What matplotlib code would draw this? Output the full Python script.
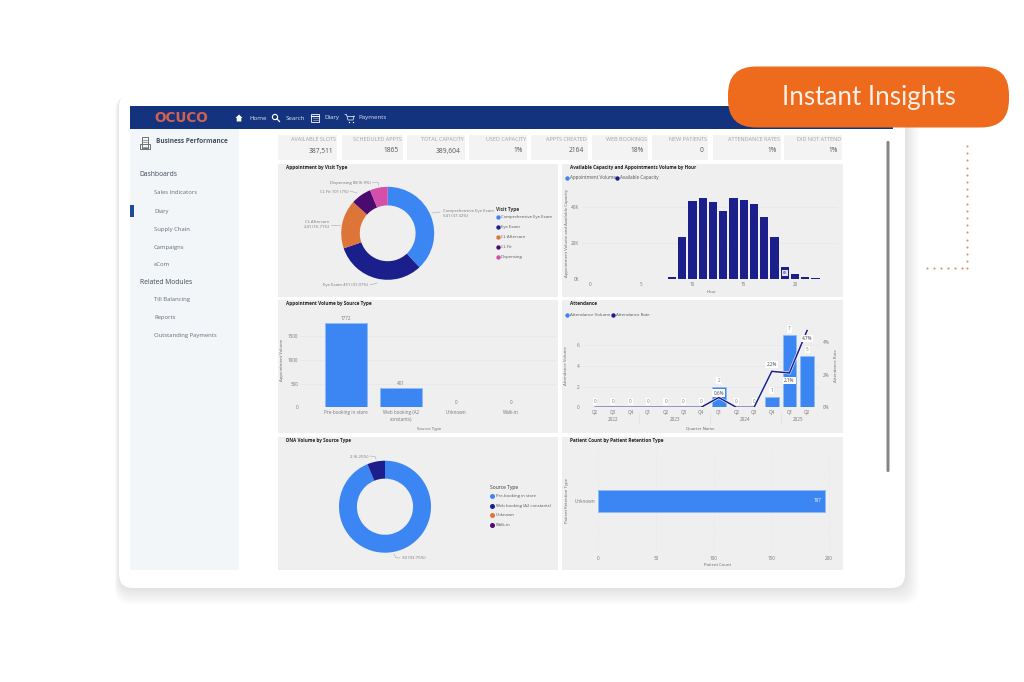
import numpy as np
import matplotlib
matplotlib.use('Agg')
import matplotlib.pyplot as plt
import matplotlib.patheffects as pe
from matplotlib.patches import FancyBboxPatch, Rectangle, Circle, Polygon

plt.rcParams['font.family'] = ['Open Sans', 'DejaVu Sans']

BLUE = '#3b86f2'
EDGE = '#8dbcf8'
NAVY = '#1a1f8c'
ORANGE = '#dd7438'
PURPLE = '#4b0a6e'
PINK = '#d34fa9'
PANEL = '#efefef'
TICK = '#777777'

kpi_names = ['AVAILABLE SLOTS', 'SCHEDULED APPTS', 'TOTAL CAPACITY', 'USED CAPACITY', 'APPTS CREATED',
             'WEB BOOKINGS', 'NEW PATIENTS', 'ATTENDANCE RATES', 'DID NOT ATTEND']
kpi_values = ['387,511', '1865', '389,604', '1%', '2164', '18%', '0', '1%', '1%']

visit_types = ['Comprehensive Eye Exam', 'Eye Exam', 'CL Aftercare', 'CL Fit', 'Dispensing']
visit_counts = [541, 451, 241, 101, 88]

hours = [8, 9, 10, 11, 12, 13, 14, 15, 16, 17, 18, 19, 20, 21, 22]
capacity = [900, 23000, 43000, 44600, 42600, 37500, 44600, 43700, 41500, 34500, 23000, 6500, 2600, 1300, 300]

source_types = ['Pre-booking in store', 'Web booking (A2\nconstants)', 'Unknown', 'Walk-in']
source_volume = [1772, 401, 0, 0]

quarters = ['Q2', 'Q3', 'Q4', 'Q1', 'Q2', 'Q3', 'Q4', 'Q1', 'Q2', 'Q3', 'Q4', 'Q1', 'Q2']
attendance = [0, 0, 0, 0, 0, 0, 0, 2, 0, 0, 1, 7, 5]
attendance_rate = [0, 0, 0, 0, 0, 0, 0, 0.6, 0, 0, 2.2, 2.1, 4.7]
rate_labels = {7: '0.6%', 10: '2.2%', 11: '2.1%', 12: '4.7%'}
years = ['2022', '2023', '2024', '2025']
year_centers = [1, 4.5, 8.5, 11.5]

dna_sources = ['Pre-booking in store', 'Web booking (A2 constants)', 'Unknown', 'Walk-in']
dna_counts = [30, 2]

retention_types = ['Unknown']
patient_counts = [197]

sidebar_items = ['Sales Indicators', 'Diary', 'Supply Chain', 'Campaigns', 'eCom']
sidebar_items2 = ['Till Balancing', 'Reports', 'Outstanding Payments']

fig = plt.figure(figsize=(10.24, 6.82), dpi=100, facecolor='white')
bg = fig.add_axes([0, 0, 1, 1])
bg.set_xlim(0, 1024)
bg.set_ylim(682, 0)
bg.axis('off')


def px_axes(x0, y0, x1, y1):
    # axes from pixel box, y counted from top like the screenshot
    ax = fig.add_axes([x0 / 1024, 1 - y1 / 682, (x1 - x0) / 1024, (y1 - y0) / 682])
    ax.patch.set_alpha(0)
    for s in ax.spines.values():
        s.set_visible(False)
    ax.tick_params(length=0, labelsize=3.3, labelcolor=TICK, pad=2)
    return ax


def round_box(x0, y0, x1, y1, r, **kw):
    bg.add_patch(FancyBboxPatch((x0 + r, y0 + r), x1 - x0 - 2 * r, y1 - y0 - 2 * r,
                                boxstyle=f'round,pad={r},rounding_size={r}', linewidth=0, **kw))


def legend(title, names, colors, x, y, ys, size=3.05):
    if title:
        bg.text(x - 2, y, title, fontsize=3.4, fontweight='bold', color='#333333', va='center')
    for name, c, yy in zip(names, colors, ys):
        bg.scatter([x], [yy], s=10, color=c, linewidths=0)
        bg.text(x + 3, yy, name, fontsize=size, color='#555555', va='center')


def axis_labels(ax, xlabel, xpos, ylabel, ypos):
    ax.set_xlabel(xlabel, fontsize=3.1, color='#666666')
    ax.xaxis.set_label_coords(xpos[0], xpos[1], transform=bg.transData)
    ax.set_ylabel(ylabel, fontsize=3.1, color='#666666', va='center')
    ax.yaxis.set_label_coords(ypos[0], ypos[1], transform=bg.transData)
    ax.xaxis.label.set_va('center')


# card and shadow
for i in range(14, 0, -1):
    round_box(119 - i * 0.3, 93 + i * 0.2, 905 + i * 1.0, 588 + i * 1.2, 16, color='#8a8a8a', alpha=0.011)
round_box(119, 93, 905, 588, 14, color='white')

# dots next to the card
dot_ys = np.arange(146, 269, 7.2)
dot_xs = np.arange(927, 967, 7)
bg.scatter(np.full(len(dot_ys), 967), dot_ys, s=2.2, color='#c9946d', linewidths=0)
bg.scatter(dot_xs, np.full(len(dot_xs), 268), s=2.2, color='#c9946d', linewidths=0)

# header and sidebar
bg.add_patch(Rectangle((130, 106), 763, 23, color='#14337e', linewidth=0))
bg.add_patch(Rectangle((130, 129), 109, 441, color='#f3f6f8', linewidth=0))
bg.add_patch(Rectangle((130, 205), 4, 12, color='#1e4a9c', linewidth=0))
bg.text(181.5, 117.8, 'OCUCO', fontsize=9.8, fontweight='bold', color='#d4604f', ha='center', va='center',
        family=['DejaVu Sans'])

for name, x in zip(['Home', 'Search', 'Diary', 'Payments'], [249, 285.5, 324, 358]):
    bg.text(x, 118, name, fontsize=4.4, color='#dfe5f2', va='center')
# home icon
bg.add_patch(Polygon([(235.5, 118), (239, 114.5), (242.5, 118), (241.3, 118), (241.3, 121.5),
                      (236.7, 121.5), (236.7, 118)], color='white', linewidth=0))
# search icon
bg.add_patch(Circle((275, 117), 2.6, fill=False, edgecolor='white', linewidth=0.8))
bg.plot([277, 279.5], [119, 121.5], color='white', lw=0.9)
# diary icon
bg.add_patch(Rectangle((311, 114), 8, 8, fill=False, edgecolor='white', linewidth=0.6))
bg.plot([311, 319], [116, 116], color='white', lw=0.8)
for yy in [118, 120]:
    bg.plot([312.5, 317.5], [yy, yy], color='white', lw=0.5, ls=(0, (1, 0.6)))
# cart icon
bg.plot([345, 346.5, 348, 353, 354], [114.5, 114.5, 120, 120, 116], color='white', lw=0.5)
bg.plot([346.8, 354], [116, 116], color='white', lw=0.5)
bg.scatter([348.5, 352.5], [121.5, 121.5], s=1, color='white', linewidths=0)

# building icon
bg.add_patch(Rectangle((141.5, 137), 6.5, 11, fill=False, edgecolor='#6f6f6f', linewidth=0.7))
bg.add_patch(Rectangle((139.5, 144), 10.5, 5, fill=False, edgecolor='#6f6f6f', linewidth=0.7))
for yy in [139.5, 141.5, 146.5]:
    bg.plot([143, 147], [yy, yy], color='#6f6f6f', lw=0.5)

bg.text(155.5, 141.7, 'Business Performance', fontsize=4.7, fontweight='bold', color='#44505c', va='center')
bg.text(139.7, 174, 'Dashboards', fontsize=4.9, color='#3f4a55', fontweight='medium', va='center')
bg.text(139.7, 282, 'Related Modules', fontsize=4.9, color='#3f4a55', fontweight='medium', va='center')
for name, yy in zip(sidebar_items, [193, 211, 229, 247, 264.7]):
    bg.text(154, yy, name, fontsize=4.2, color='#626c76', va='center')
for name, yy in zip(sidebar_items2, [300, 318, 336]):
    bg.text(154, yy, name, fontsize=4.2, color='#626c76', va='center')

# scrollbar
round_box(886.5, 141, 889.5, 472, 1.4, color='#858585')

# kpi cards
kpi_left = [278, 342, 407, 469, 531, 592, 652, 713, 784]
kpi_right = [337, 403, 465, 527, 588, 648, 708, 781, 842]
for name, val, l, r in zip(kpi_names, kpi_values, kpi_left, kpi_right):
    bg.add_patch(Rectangle((l, 135), r - l, 25, color='#f3f3f3', linewidth=0))
    bg.text(r - 1, 139.5, name, fontsize=4.0, color='#a4a4a4', ha='right', va='center')
    bg.text(r - 4, 151, val, fontsize=4.8, color='#555555', ha='right', va='center')

# chart panels
panel_boxes = [(278, 164, 558, 297), (562, 164, 843, 297), (278, 300, 558, 433),
               (562, 300, 843, 433), (278, 437, 558, 570), (562, 437, 843, 570)]
panel_titles = ['Appointment by Visit Type', 'Available Capacity and Appointments Volume by Hour',
                'Appointment Volume by Source Type', 'Attendance', 'DNA Volume by Source Type',
                'Patient Count by Patient Retention Type']
for (x0, y0, x1, y1), title in zip(panel_boxes, panel_titles):
    bg.add_patch(Rectangle((x0, y0), x1 - x0, y1 - y0, color=PANEL, linewidth=0))
    bg.text(x0 + 7.5, y0 + 3.8, title, fontsize=3.35, fontweight='bold', color='#222222', va='center')

# visit type donut
ax = px_axes(387.7 - 46.5, 233.3 - 46.5, 387.7 + 46.5, 233.3 + 46.5)
ax.pie(visit_counts, colors=[BLUE, NAVY, ORANGE, PURPLE, PINK], startangle=90, counterclock=False, radius=1,
       wedgeprops=dict(width=0.4, linewidth=0))
ax.set_xlim(-1, 1)
ax.set_ylim(-1, 1)
LEAD = dict(color='#a8a8a8', lw=0.4)
bg.plot([432, 440], [213, 212], **LEAD)
bg.text(443, 213.5, 'Comprehensive Eye Exam\n541 (37.32%)', fontsize=3.05, color='#777777', va='center', linespacing=1.6)
bg.plot([370, 377], [285, 283], **LEAD)
bg.text(368.5, 285, 'Eye Exam 451 (31.07%)', fontsize=3.05, color='#777777', ha='right', va='center')
bg.plot([331, 340], [225, 225], **LEAD)
bg.text(329, 224.5, 'CL Aftercare\n241 (16.71%)', fontsize=3.05, color='#777777', ha='right', va='center', linespacing=1.3)
bg.plot([350, 357], [191, 193], **LEAD)
bg.text(348.5, 191.7, 'CL Fit 101 (7%)', fontsize=3.05, color='#777777', ha='right', va='center')
bg.plot([372, 378, 378], [182, 182, 185], **LEAD)
bg.text(370.5, 182.7, 'Dispensing 88 (6.9%)', fontsize=3.05, color='#777777', ha='right', va='center')
legend('Visit Type', visit_types, [BLUE, NAVY, ORANGE, PURPLE, PINK], 498, 209, [217.3, 227, 237, 247, 256.7])

# capacity by hour
ax = px_axes(582, 186, 838, 279)
ax.bar(hours, capacity, width=0.82, color=NAVY)
ax.set_xlim(-0.78, 24.2)
ax.set_ylim(0, 51400)
ax.set_xticks([0, 5, 10, 15, 20])
ax.set_yticks([0, 20000, 40000])
ax.set_yticklabels(['0K', '20K', '40K'])
ax.grid(axis='y', color='#e7e7e7', lw=0.5)
ax.set_axisbelow(True)
axis_labels(ax, 'Hour', (712, 291.7), 'Appointment Volume and Available Capacity', (566.7, 233))
ax.text(19, 3200, '6K', fontsize=2.6, color=NAVY, ha='center', va='center',
        bbox=dict(facecolor='#dfe3f5', edgecolor='none', pad=0.6))
legend('', ['Appointment Volume'], [BLUE], 567, 178, [178], size=3.3)
legend('', ['Available Capacity'], [NAVY], 617, 178, [178], size=3.3)

# appointment volume by source
ax = px_axes(301, 316, 556, 407.3)
x_pos = np.arange(len(source_types))
ax.bar(x_pos, source_volume, width=0.776, color=BLUE, edgecolor=EDGE, linewidth=0.7)
ax.set_xlim(-0.82, 3.82)
ax.set_ylim(0, 1930)
ax.set_xticks(x_pos)
ax.set_xticklabels(source_types, linespacing=1.4)
ax.set_yticks([0, 500, 1000, 1500])
ax.grid(axis='y', color='#e7e7e7', lw=0.5)
ax.set_axisbelow(True)
for x, v in zip(x_pos, source_volume):
    ax.annotate(str(v), (x, v), xytext=(0, 3.6), textcoords='offset points', fontsize=3.3, color=TICK,
                ha='center', va='center')
axis_labels(ax, 'Source Type', (429, 428.7), 'Appointment Volume', (282, 360))

# attendance
ax = px_axes(582, 322, 820, 407.3)
x_pos = np.arange(len(quarters))
ax.bar(x_pos, attendance, width=0.78, color=BLUE, edgecolor=EDGE, linewidth=0.5)
ax.set_xlim(-0.74, 12.73)
ax.set_ylim(0, 8.26)
ax.set_xticks(x_pos)
ax.set_xticklabels(quarters)
ax.set_yticks([0, 2, 4, 6])
ax.grid(axis='y', color='#e7e7e7', lw=0.5)
ax.set_axisbelow(True)
axis_labels(ax, 'Quarter Name', (700, 428.7), 'Attendance Volume', (566, 366))
box = dict(facecolor='white', edgecolor='none', pad=0.8)
for x, v in zip(x_pos, attendance):
    ax.annotate(str(v), (x, v), xytext=(0, 4.4), textcoords='offset points', fontsize=3.3, color=TICK,
                ha='center', va='center', bbox=box, zorder=6)
trans = ax.get_xaxis_transform()
for name, c in zip(years, year_centers):
    ax.text(c, -0.145, name, transform=trans, fontsize=3.3, color=TICK, ha='center', va='center')
for sep in [2.5, 6.5, 10.5]:
    ax.plot([sep, sep], [-0.06, -0.2], transform=trans, color='#dddddd', lw=0.4, clip_on=False)

ax2 = ax.twinx()
ax2.patch.set_alpha(0)
for s in ax2.spines.values():
    s.set_visible(False)
ax2.tick_params(length=0, labelsize=3.3, labelcolor=TICK, pad=2)
ax2.plot(x_pos, attendance_rate, color=NAVY, lw=1.1, solid_joinstyle='miter',
         path_effects=[pe.Stroke(linewidth=1.9, foreground='white'), pe.Normal()], zorder=5)
ax2.set_ylim(0, 5.22)
ax2.set_yticks([0, 2, 4])
ax2.set_yticklabels(['0%', '2%', '4%'])
ax2.set_ylabel('Attendance Rate', fontsize=3.1, color='#666666', va='center')
ax2.yaxis.set_label_coords(836, 366, transform=bg.transData)
for i, lab in rate_labels.items():
    off = -5.5 if i in (11, 12) else (3.2 if i == 7 else 4.7)
    ax2.annotate(lab, (i, attendance_rate[i]), xytext=(0, off), textcoords='offset points', fontsize=3.3,
                 color='#444444', ha='center', va='center', bbox=box, zorder=7)
legend('', ['Attendance Volume'], [BLUE], 567, 315, [315], size=3.2)
legend('', ['Attendance Rate'], [NAVY], 613, 315, [315], size=3.2)

# dna donut
ax = px_axes(385 - 46, 506.7 - 46, 385 + 46, 506.7 + 46)
ax.pie(dna_counts, colors=[BLUE, NAVY], startangle=90, counterclock=False, radius=1,
       wedgeprops=dict(width=0.39, linewidth=0))
ax.set_xlim(-1, 1)
ax.set_ylim(-1, 1)
bg.plot([370, 375, 376], [456, 456.5, 459], **LEAD)
bg.text(368, 456.7, '2 (6.25%)', fontsize=3.2, color='#777777', ha='right', va='center')
bg.plot([394, 395.5, 400], [554, 557.5, 558], **LEAD)
bg.text(402, 558, '30 (93.75%)', fontsize=3.2, color='#777777', va='center')
bg.text(490, 487.7, 'Source Type', fontsize=3.6, color='#333333', va='center')
for name, c, yy in zip(dna_sources, [BLUE, NAVY, ORANGE, PURPLE], [496, 506, 515, 525]):
    bg.scatter([492], [yy], s=13, color=c, linewidths=0)
    bg.text(495.7, yy, name, fontsize=3.05, color='#555555', va='center')

# patient count
ax = px_axes(598.3, 450, 838, 552)
ax.barh(retention_types, patient_counts, height=0.213, color=BLUE, edgecolor=EDGE, linewidth=0.7)
ax.set_xlim(0, 208)
ax.set_ylim(-0.5, 0.5)
ax.set_xticks([0, 50, 100, 150, 200])
ax.grid(axis='x', color='#e4e4e4', lw=0.5, ls=':')
ax.set_axisbelow(True)
ax.tick_params(axis='x', pad=3)
axis_labels(ax, 'Patient Count', (717, 565), 'Patient Retention Type', (566.7, 500.7))
ax.annotate(str(patient_counts[0]), (patient_counts[0], 0), xytext=(-3, 0), textcoords='offset points',
            fontsize=3.3, color='white', ha='right', va='center')

# badge goes over the header
over = fig.add_axes([0, 0, 1, 1])
over.set_xlim(0, 1024)
over.set_ylim(682, 0)
over.axis('off')
over.add_patch(FancyBboxPatch((728 + 28, 66.5 + 28), 281 - 56, 61 - 56, boxstyle='round,pad=28,rounding_size=28',
                              color='#ee6b1e', linewidth=0))
over.text(868.5, 97, 'Instant Insights', fontsize=18.7, color='#fdf0e6', ha='center', va='center',
          family=['Lato', 'DejaVu Sans'])

fig.savefig('out.png', dpi=100)
